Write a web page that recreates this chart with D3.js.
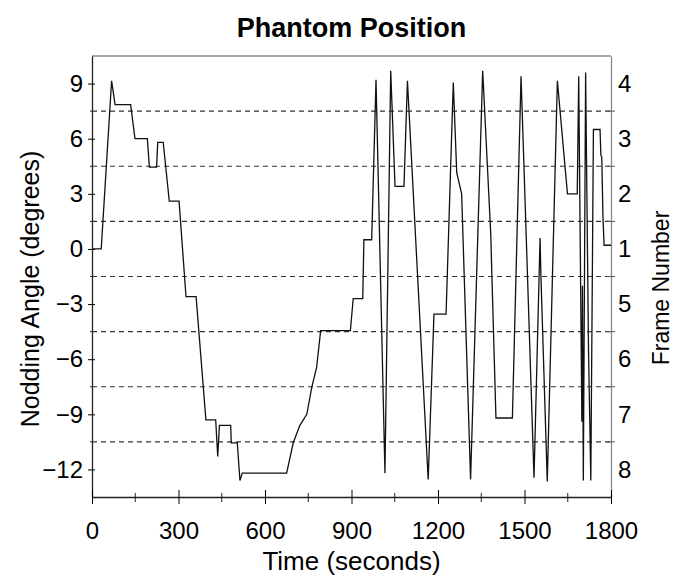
<!DOCTYPE html>
<html>
<head>
<meta charset="utf-8">
<script src="https://cdn.jsdelivr.net/npm/d3@7"></script>
<style>
  body { margin: 0; background: #fff; }
  text { font-family: "Liberation Sans", Arial, sans-serif; fill: #000; }
</style>
</head>
<body>
<div id="chart"></div>
<script>
// time (s) and nodding angle (deg)
var timeSec = [0, 32, 68, 80, 134, 149, 192, 199, 224, 228, 247, 268, 302, 326, 361, 395, 429, 436, 442, 481,
  483, 504, 513, 521, 675, 698, 721, 745, 762, 779, 793, 896, 906, 939, 943, 970, 985, 1016, 1036, 1051,
  1082, 1094, 1166, 1186, 1228, 1253, 1265, 1282, 1313, 1355, 1383, 1387, 1401, 1458, 1488, 1533, 1554, 1557,
  1579, 1614, 1649, 1683, 1688, 1699, 1701, 1704, 1712, 1717, 1722, 1730, 1739, 1762, 1765, 1768, 1772, 1776, 1800];
var angleDeg = [0, 0, 9.15, 7.85, 7.85, 6.0, 6.0, 4.45, 4.45, 5.8, 5.8, 2.6, 2.6, -2.6, -2.6, -9.3, -9.3, -11.3, -9.6, -9.6,
  -10.55, -10.55, -12.6, -12.2, -12.2, -10.55, -9.6, -9.0, -7.55, -6.45, -4.45, -4.45, -2.7, -2.7, 0.5, 0.5, 9.2, -12.2, 9.7, 3.4,
  3.4, 9.15, -12.55, -3.55, -3.55, 9.05, 4.15, 3.0, -12.55, 9.7, 0.8, -1.5, -9.2, -9.2, 9.4, -12.45, 0.6, -1.5,
  -12.65, 9.15, 3.0, 3.0, 9.4, -9.4, -2.0, -12.6, 9.6, 2.0, -5.5, -12.6, 6.5, 6.5, 5.1, 5.0, 1.8, 0.2, 0.2];

var xTicks = [0, 300, 600, 900, 1200, 1500, 1800];
var xMinor = [150, 450, 750, 1050, 1350, 1650];
var yTicks = [9, 6, 3, 0, -3, -6, -9, -12];
var gridVals = [7.5, 4.5, 1.5, -1.5, -4.5, -7.5, -10.5];
var frameLabels = ["4", "3", "2", "1", "5", "6", "7", "8"];

var W = 675, H = 578;
var margin = {left: 92, right: 611, top: 56, bottom: 497};

var x = d3.scaleLinear().domain([0, 1800]).range([margin.left, margin.right]);
var y = d3.scaleLinear().domain([-13.5, 10.5]).range([margin.bottom, margin.top]);

var svg = d3.select("#chart").append("svg")
    .attr("width", W)
    .attr("height", H);

// dashed grid
svg.append("g").selectAll("line")
  .data(gridVals)
  .enter().append("line")
    .attr("x1", margin.left).attr("x2", margin.right)
    .attr("y1", function(d) { return y(d); })
    .attr("y2", function(d) { return y(d); })
    .attr("stroke", "#333")
    .attr("stroke-width", 1.1)
    .attr("stroke-dasharray", "5,4");

// frame top
svg.append("line")
  .attr("x1", margin.left).attr("x2", margin.right)
  .attr("y1", margin.top).attr("y2", margin.top)
  .attr("stroke", "#888").attr("stroke-width", 1.3);

// right axis
var yRight = svg.append("g")
  .attr("transform", "translate(" + margin.right + ",0)")
  .call(d3.axisRight(y).tickValues(yTicks).tickSize(0).tickSizeOuter(0).tickPadding(7)
    .tickFormat(function(d, i) { return frameLabels[i]; }));
yRight.select(".domain").attr("stroke", "#888").attr("stroke-width", 1.3);
yRight.selectAll("text").style("font-size", "24px");
yRight.selectAll("line.minor")
  .data(gridVals)
  .enter().append("line")
    .attr("class", "minor")
    .attr("x1", -4).attr("x2", 4)
    .attr("y1", function(d) { return y(d); })
    .attr("y2", function(d) { return y(d); })
    .attr("stroke", "#555");

// left axis
var yLeft = svg.append("g")
  .attr("transform", "translate(" + margin.left + ",0)")
  .call(d3.axisLeft(y).tickValues(yTicks).tickSize(4).tickSizeOuter(0).tickPadding(5));
yLeft.selectAll(".tick line").attr("x1", 3);
yLeft.select(".domain").attr("stroke", "#222").attr("stroke-width", 1.3);
yLeft.selectAll("text").style("font-size", "24px");
yLeft.selectAll("line.minor")
  .data(gridVals)
  .enter().append("line")
    .attr("class", "minor")
    .attr("x1", -2).attr("x2", 0)
    .attr("y1", function(d) { return y(d); })
    .attr("y2", function(d) { return y(d); })
    .attr("stroke", "#222");

// bottom axis
var xAxis = svg.append("g")
  .attr("transform", "translate(0," + margin.bottom + ")")
  .call(d3.axisBottom(x).tickValues(xTicks).tickSize(7).tickSizeOuter(0).tickPadding(18)
    .tickFormat(d3.format("d")));
xAxis.selectAll(".tick line").attr("y1", -7);
xAxis.select(".domain").attr("stroke", "#222").attr("stroke-width", 1.3);
xAxis.selectAll("text").style("font-size", "24px");
xAxis.selectAll("line.minor")
  .data(xMinor)
  .enter().append("line")
    .attr("class", "minor")
    .attr("x1", function(d) { return x(d); })
    .attr("x2", function(d) { return x(d); })
    .attr("y1", -4).attr("y2", 5)
    .attr("stroke", "#222");

// trace
var pts = timeSec.map(function(t, i) { return [t, angleDeg[i]]; });
svg.append("path")
  .datum(pts)
  .attr("fill", "none")
  .attr("stroke", "#111")
  .attr("stroke-width", 1.3)
  .attr("d", d3.line()
    .x(function(d) { return x(d[0]); })
    .y(function(d) { return y(d[1]); }));

// titles
svg.append("text")
  .attr("x", (margin.left + margin.right) / 2).attr("y", 37)
  .attr("text-anchor", "middle")
  .style("font-size", "27px").style("font-weight", "bold")
  .text("Phantom Position");

svg.append("text")
  .attr("x", (margin.left + margin.right) / 2).attr("y", 570)
  .attr("text-anchor", "middle")
  .style("font-size", "26px")
  .text("Time (seconds)");

svg.append("text")
  .attr("transform", "translate(39,289) rotate(-90)")
  .attr("text-anchor", "middle")
  .style("font-size", "25px")
  .text("Nodding Angle (degrees)");

svg.append("text")
  .attr("transform", "translate(669,288) rotate(-90)")
  .attr("text-anchor", "middle")
  .style("font-size", "23px")
  .text("Frame Number");
</script>
</body>
</html>
